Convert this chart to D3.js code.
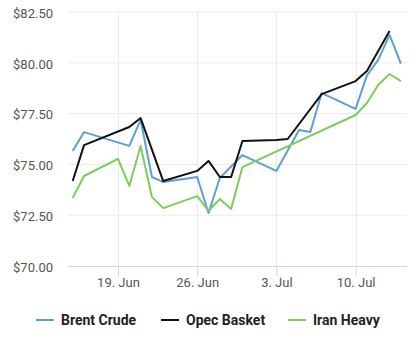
<!DOCTYPE html>
<html>
<head>
<meta charset="utf-8">
<script src="https://cdn.jsdelivr.net/npm/d3@7"></script>
<style>
  body { margin: 0; background: #fff; }
  svg { display: block; font-family: Roboto, "Noto Sans", sans-serif; }
</style>
</head>
<body>
<svg id="chart"></svg>
<script>
// Dates (weekday closes)
const brentDates = ["2017-06-15","2017-06-16","2017-06-20","2017-06-21","2017-06-22","2017-06-23","2017-06-26","2017-06-27","2017-06-28","2017-06-30","2017-07-03","2017-07-05","2017-07-06","2017-07-07","2017-07-10","2017-07-11","2017-07-12","2017-07-13","2017-07-14"];
const brentValues = [75.66, 76.59, 75.91, 77.19, 74.38, 74.13, 74.38, 72.61, 74.33, 75.46, 74.68, 76.69, 76.59, 78.51, 77.73, 79.38, 80.14, 81.37, 79.96];

const opecDates = ["2017-06-15","2017-06-16","2017-06-20","2017-06-21","2017-06-23","2017-06-26","2017-06-27","2017-06-28","2017-06-29","2017-06-30","2017-07-03","2017-07-04","2017-07-07","2017-07-10","2017-07-11","2017-07-13"];
const opecValues = [74.18, 75.95, 76.84, 77.28, 74.18, 74.68, 75.17, 74.38, 74.38, 76.15, 76.20, 76.25, 78.46, 79.10, 79.60, 81.57];

const iranDates = ["2017-06-15","2017-06-16","2017-06-19","2017-06-20","2017-06-21","2017-06-22","2017-06-23","2017-06-26","2017-06-27","2017-06-28","2017-06-29","2017-06-30","2017-07-10","2017-07-11","2017-07-12","2017-07-13","2017-07-14"];
const iranValues = [73.35, 74.43, 75.27, 73.94, 75.91, 73.40, 72.85, 73.44, 72.71, 73.30, 72.81, 74.87, 77.43, 78.02, 78.91, 79.45, 79.10];

const yTicks = [70, 72.5, 75, 77.5, 80, 82.5];
const xTicks = ["2017-06-19", "2017-06-26", "2017-07-03", "2017-07-10"];

const seriesNames = ["Brent Crude", "Opec Basket", "Iran Heavy"];
const seriesColors = ["#5f9dd6", "#111111", "#7dcc5b"];

const parse = d3.utcParse("%Y-%m-%d");
const series = [
  { name: seriesNames[0], color: seriesColors[0], points: brentDates.map((d, i) => ({ date: parse(d), value: brentValues[i] })) },
  { name: seriesNames[1], color: seriesColors[1], points: opecDates.map((d, i) => ({ date: parse(d), value: opecValues[i] })) },
  { name: seriesNames[2], color: seriesColors[2], points: iranDates.map((d, i) => ({ date: parse(d), value: iranValues[i] })) }
];

const width = 418, height = 351;
const plot = { left: 68, right: 407, top: 12, bottom: 266 };

const svg = d3.select("#chart").attr("width", width).attr("height", height);

const xScale = d3.scaleUtc()
  .domain([new Date(Date.UTC(2017, 5, 14, 14)), new Date(Date.UTC(2017, 6, 14, 13))])
  .range([plot.left, plot.right]);

const yScale = d3.scaleLinear()
  .domain([70, 82.5])
  .range([plot.bottom, plot.top]);

// horizontal grid lines
svg.append("g")
  .selectAll("line")
  .data(yTicks.slice(1))
  .enter()
  .append("line")
  .attr("x1", plot.left)
  .attr("x2", plot.right)
  .attr("y1", d => yScale(d))
  .attr("y2", d => yScale(d))
  .attr("stroke", "#ebebeb")
  .attr("stroke-width", 1);

// vertical grid lines
svg.append("g")
  .selectAll("line")
  .data(xTicks.map(parse))
  .enter()
  .append("line")
  .attr("x1", d => Math.round(xScale(d)) + 0.5)
  .attr("x2", d => Math.round(xScale(d)) + 0.5)
  .attr("y1", plot.top)
  .attr("y2", plot.bottom)
  .attr("stroke", "#ebebeb")
  .attr("stroke-width", 1);

// y axis labels
const yAxis = svg.append("g")
  .attr("transform", `translate(${plot.left - 15},0)`)
  .call(d3.axisLeft(yScale).tickValues(yTicks).tickSize(0).tickFormat(d => "$" + d3.format(".2f")(d)));
yAxis.select(".domain").remove();
yAxis.selectAll("text")
  .attr("x", 0)
  .attr("dy", "0.4em")
  .style("font-family", "Roboto, sans-serif")
  .style("font-size", "13px")
  .style("fill", "#555");

// x axis
const xAxis = svg.append("g")
  .attr("transform", `translate(0,${plot.bottom})`)
  .call(d3.axisBottom(xScale).tickValues(xTicks.map(parse)).tickSize(10).tickSizeOuter(0).tickFormat(d3.utcFormat("%-d. %b")));
xAxis.select(".domain").attr("stroke", "#ccd6eb").attr("d", `M${plot.left},0.5H${plot.right}`);
xAxis.selectAll(".tick line").attr("stroke", "#ccd6eb");
xAxis.selectAll("text")
  .attr("y", 12)
  .style("font-family", "Roboto, sans-serif")
  .style("font-size", "13px")
  .style("fill", "#555");

// series lines
const line = d3.line()
  .x(d => xScale(d.date))
  .y(d => yScale(d.value));

svg.append("g")
  .selectAll("path")
  .data(series)
  .enter()
  .append("path")
  .attr("fill", "none")
  .attr("stroke", d => d.color)
  .attr("stroke-width", 2)
  .attr("stroke-linejoin", "round")
  .attr("d", d => line(d.points));

// legend
const legendX = [36, 161, 288];
const legend = svg.selectAll(".legend")
  .data(series)
  .enter()
  .append("g")
  .attr("class", "legend")
  .attr("transform", (d, i) => `translate(${legendX[i]},320)`);

legend.append("line")
  .attr("x1", 0)
  .attr("x2", 18)
  .attr("stroke", d => d.color)
  .attr("stroke-width", 2);

legend.append("text")
  .attr("x", 25)
  .attr("dy", "0.36em")
  .style("font-family", "Roboto, sans-serif")
  .style("font-size", "14px")
  .style("font-weight", "bold")
  .style("fill", "#222")
  .text(d => d.name);
</script>
</body>
</html>
